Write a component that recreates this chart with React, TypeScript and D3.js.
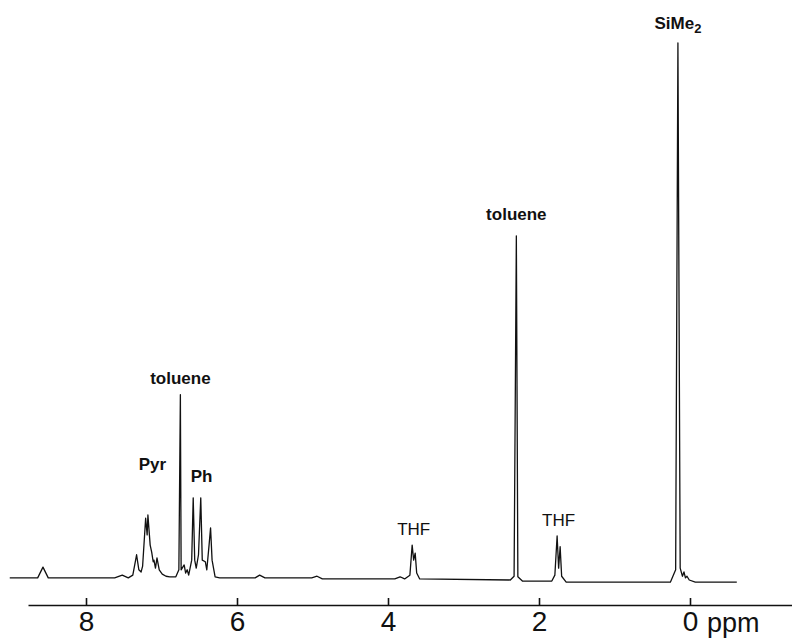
import React, { useRef, useEffect } from 'react';
import * as d3 from 'd3';

// spectrum trace (ppm, relative intensity, SiMe2 = 100)
const shifts: number[] = [
  9.01, 8.64, 8.57, 8.5, 7.62, 7.52, 7.44, 7.38, 7.33, 7.3, 7.27, 7.25, 7.21, 7.19, 7.18,
  7.15, 7.13, 7.11, 7.1, 7.08, 7.06, 7.03, 6.99, 6.94, 6.89, 6.81, 6.77, 6.75, 6.74, 6.7,
  6.68, 6.66, 6.64, 6.6, 6.58, 6.56, 6.54, 6.51, 6.48, 6.46, 6.42, 6.4, 6.37, 6.35, 6.33,
  6.29, 6.23, 5.76, 5.7, 5.63, 5.01, 4.94, 4.87, 3.91, 3.84, 3.78, 3.71, 3.68, 3.66, 3.64,
  3.62, 3.58, 2.38, 2.33, 2.3, 2.28, 2.22, 1.83, 1.79, 1.76, 1.74, 1.72, 1.7, 1.64, 0.26,
  0.19, 0.16, 0.13, 0.1, 0.08, 0.06, 0.04, 0.01, -0.07, -0.62,
];
const intensities: number[] = [
  0.4, 0.4, 2.4, 0.4, 0.4, 0.9, 0.4, 0.9, 4.7, 1.9, 1.5, 2.6, 11.5, 8.4, 12.1,
  6.5, 5.2, 3.4, 3.7, 2.2, 4.1, 1.9, 1.1, 0.7, 0.6, 0.6, 1.9, 34.5, 1.9, 2.8,
  1.3, 1.9, 0.9, 3.7, 15.3, 3.7, 2.2, 4.7, 15.3, 3.7, 3.4, 1.9, 6.5, 9.7, 3.7,
  0.6, 0.4, 0.4, 0.9, 0.4, 0.4, 0.7, 0.2, 0.2, 0.6, 0.2, 0.9, 6.5, 3.7, 5.0,
  1.3, 0.2, 0.0, 0.7, 64.1, 0.6, -0.2, -0.2, 0.9, 8.2, 2.2, 6.2, 0.7, -0.4, -0.4,
  1.9, 100, 2.2, 0.7, 1.5, 0.4, 0.7, 0.0, -0.4, -0.4,
];

// peak assignments
const labelText: string[] = ['SiMe', 'toluene', 'toluene', 'Pyr', 'Ph', 'THF', 'THF'];
const labelSub: string[] = ['2', '', '', '', '', '', ''];
const labelPpm: number[] = [0.16, 2.3, 6.75, 7.12, 6.47, 3.66, 1.74];
const labelInt: number[] = [102.6, 67, 36.5, 20.4, 18.2, 8.4, 10];
const labelBold: boolean[] = [true, true, true, true, true, false, false];

const tickValues: number[] = [8, 6, 4, 2, 0];

const W = 792;
const H = 640;

const App: React.FC = () => {
  const svgRef = useRef<SVGSVGElement | null>(null);

  useEffect(() => {
    const svg = d3.select(svgRef.current);
    svg.selectAll('*').remove();

    // scales
    const x = d3.scaleLinear().domain([8, 0]).range([86, 690]);
    const y = d3.scaleLinear().domain([0, 100]).range([580, 43]);

    const font = 'Liberation Sans, Arial, Helvetica, sans-serif';

    // spectrum
    const pts = shifts.map((s, i) => [s, intensities[i]] as [number, number]);
    const line = d3.line<[number, number]>()
      .x(d => x(d[0]))
      .y(d => y(d[1]));

    svg.append('path')
      .datum(pts)
      .attr('d', line)
      .attr('fill', 'none')
      .attr('stroke', '#111')
      .attr('stroke-width', 1.3)
      .attr('stroke-linejoin', 'round');

    // ppm axis, ticks pointing up
    const xa = x.copy().domain([x.invert(28), x.invert(792)]).range([28, 792]);
    const axis = d3.axisBottom(xa)
      .tickValues(tickValues)
      .tickFormat(d3.format('d'))
      .tickSizeInner(-7)
      .tickSizeOuter(0)
      .tickPadding(6);

    const g = svg.append('g')
      .attr('transform', 'translate(0,605)')
      .call(axis);
    g.select('.domain').attr('stroke', '#111').attr('stroke-width', 1.4);
    g.selectAll('.tick line').attr('stroke', '#111').attr('stroke-width', 1.6);
    g.selectAll('.tick text')
      .attr('fill', '#111')
      .style('font-family', font)
      .style('font-size', '28px');

    svg.append('text')
      .attr('x', 707)
      .attr('y', 632)
      .attr('fill', '#111')
      .style('font-family', font)
      .style('font-size', '27px')
      .text('ppm');

    // labels
    labelText.forEach((t, i) => {
      const txt = svg.append('text')
        .attr('x', x(labelPpm[i]))
        .attr('y', y(labelInt[i]))
        .attr('text-anchor', 'middle')
        .attr('fill', '#111')
        .style('font-family', font)
        .style('font-size', '17px')
        .style('font-weight', labelBold[i] ? 'bold' : 'normal')
        .text(t);
      if (labelSub[i]) {
        txt.append('tspan')
          .attr('dy', 4)
          .style('font-size', '13px')
          .text(labelSub[i]);
      }
    });
  }, []);

  return (
    <svg
      ref={svgRef}
      width={W}
      height={H}
      style={{ position: 'absolute', left: 0, top: 0, background: '#fff' }}
    />
  );
};

export default App;
